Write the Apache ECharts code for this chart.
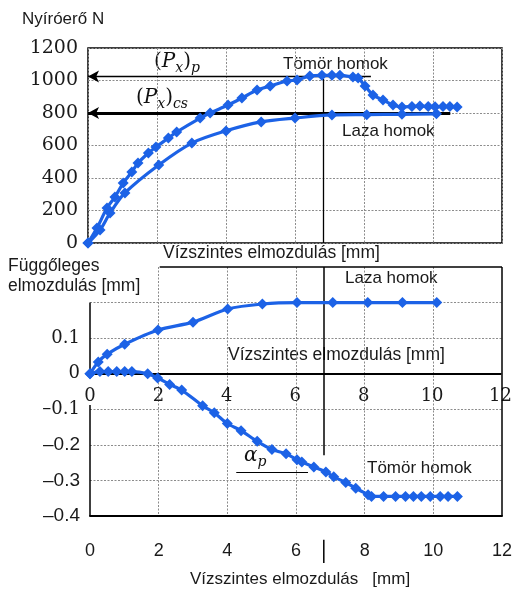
<!DOCTYPE html>
<html>
<head>
<meta charset="utf-8">
<script src="https://cdn.jsdelivr.net/npm/echarts@6/dist/echarts.min.js"></script>
<style>
html, body { margin: 0; padding: 0; background: #fff; }
#chart { width: 515px; height: 592px; }
</style>
</head>
<body>
<div id="chart"></div>
<script>
// Horizontal displacement [mm] ticks shared by both panels
const dispTicks = [0, 2, 4, 6, 8, 10, 12];
// Shear force [N] ticks, upper panel
const forceTickLabels = ['0', '200', '400', '600', '800', '1000', '1200'];
// Vertical displacement [mm] tick labels, lower panel (-0.4 ... 0.3)
const vertTickLabels = ['–0.4', '–0.3', '–0.2', '–0.1', '0', '0.1', '', ''];

// Shear force vs horizontal displacement – dense sand
const denseForceX = [0, 0.26, 0.55, 0.78, 1.02, 1.27, 1.45, 1.75, 1.97, 2.33, 2.57, 3.25, 3.54, 4.06, 4.46, 4.9, 5.28, 5.77, 6.06, 6.43, 6.78, 7.07, 7.3, 7.68, 7.83, 8.03, 8.26, 8.55, 8.84, 9.1, 9.39, 9.62, 9.86, 10.06, 10.29, 10.49, 10.7];
const denseForceY = [0, 92, 215, 283, 369, 437, 492, 554, 591, 646, 683, 769, 800, 849, 892, 941, 966, 997, 1003, 1028, 1032, 1032, 1032, 1022, 1015, 966, 911, 880, 849, 837, 840, 843, 840, 838, 840, 840, 837];

// Shear force vs horizontal displacement – loose sand
const looseForceX = [0, 0.35, 0.64, 1.07, 2.05, 3.01, 4.0, 5.02, 6.0, 7.07, 8.08, 9.1, 10.1];
const looseForceY = [0, 80, 185, 308, 480, 615, 690, 745, 769, 788, 790, 792, 795];

// Vertical vs horizontal displacement – loose sand
const looseVertX = [0, 0.24, 0.5, 1.01, 1.98, 3.0, 4.01, 5.02, 6.03, 7.07, 8.09, 9.1, 10.1];
const looseVertY = [0, 0.033, 0.055, 0.083, 0.123, 0.145, 0.182, 0.196, 0.2, 0.2, 0.2, 0.2, 0.2];

// Vertical vs horizontal displacement – dense sand
const denseVertX = [0, 0.29, 0.53, 0.78, 1.01, 1.22, 1.68, 1.97, 2.32, 2.67, 3.28, 3.62, 4.0, 4.4, 4.87, 5.3, 5.71, 6.03, 6.17, 6.52, 6.87, 7.1, 7.45, 7.74, 8.1, 8.2, 8.55, 8.9, 9.19, 9.42, 9.65, 9.91, 10.2, 10.43, 10.7];
const denseVertY = [0, 0.006, 0.006, 0.006, 0.006, 0.006, 0, -0.012, -0.03, -0.046, -0.09, -0.11, -0.14, -0.16, -0.19, -0.213, -0.225, -0.242, -0.248, -0.262, -0.276, -0.29, -0.306, -0.322, -0.34, -0.345, -0.345, -0.345, -0.345, -0.345, -0.345, -0.345, -0.345, -0.345, -0.345];

// Reference levels
const peakForce = 1025;      // (Px)p
const residualForce = 800;   // (Px)cs
const peakDisp = 6.81;

const BLUE = '#1c62e6';
const GRID = '#8c8c8c';
const INK = '#1a1a1a';
const SANS = '"Liberation Sans", Arial, sans-serif';
const SERIF = '"DejaVu Serif", serif';

function pairs(xs, ys) { return xs.map((x, i) => [x, ys[i]]); }

function curve(name, xs, ys, xi, yi, extra) {
  return Object.assign({
    type: 'line', name: name, xAxisIndex: xi, yAxisIndex: yi,
    data: pairs(xs, ys), smooth: 0.3, clip: false,
    symbol: 'diamond', symbolSize: 11, showSymbol: true,
    lineStyle: { color: BLUE, width: 3.2 },
    itemStyle: { color: BLUE },
    animation: false, z: 5
  }, extra || {});
}

function seg(a, b, w, sym) {
  return [
    { coord: a, symbol: sym || 'none', symbolSize: [9, 11], lineStyle: { color: '#000', width: w, type: 'solid' } },
    { coord: b, symbol: 'none' }
  ];
}

const markBase = { silent: true, symbol: ['none', 'none'], label: { show: false }, animation: false, lineStyle: { color: '#000', type: 'solid' } };
const dotted = (color) => ({ show: true, lineStyle: { color: color || GRID, type: [2, 1.5], width: 1 } });
const dispLabel = (v, i) => String(dispTicks[i] !== undefined ? dispTicks[i] : v);

const chart = echarts.init(document.getElementById('chart'), null, { renderer: 'canvas' });

const texts = [
  { type: 'text', x: 22, y: 19, style: { text: 'Nyíróerő N', font: '17px ' + SANS, fill: INK, verticalAlign: 'middle' } },
  { type: 'text', x: 154, y: 52, style: {
    text: '{r|(}{i|P}{sub|x}{r|)}{sub|p}',
    rich: {
      r: { fontFamily: SERIF, fontSize: 20, verticalAlign: 'top', lineHeight: 28, fill: '#111' },
      i: { fontFamily: SERIF, fontStyle: 'italic', fontSize: 20, verticalAlign: 'top', lineHeight: 28, fill: '#111' },
      sub: { fontFamily: SERIF, fontStyle: 'italic', fontSize: 14, verticalAlign: 'top', lineHeight: 28, padding: [9, 0, 0, 0], fill: '#111' }
    } } },
  { type: 'text', x: 136, y: 88, style: {
    text: '{r|(}{i|P}{sub|x}{r|)}{sub|cs}',
    rich: {
      r: { fontFamily: SERIF, fontSize: 20, verticalAlign: 'top', lineHeight: 28, fill: '#111' },
      i: { fontFamily: SERIF, fontStyle: 'italic', fontSize: 20, verticalAlign: 'top', lineHeight: 28, fill: '#111' },
      sub: { fontFamily: SERIF, fontStyle: 'italic', fontSize: 14, verticalAlign: 'top', lineHeight: 28, padding: [9, 0, 0, 0], fill: '#111' }
    } } },
  { type: 'text', x: 283, y: 64, style: { text: 'Tömör homok', font: '17px ' + SANS, fill: INK, verticalAlign: 'middle' } },
  { type: 'text', x: 342, y: 131, style: { text: 'Laza homok', font: '17px ' + SANS, fill: INK, verticalAlign: 'middle' } },
  { type: 'text', x: 163, y: 253, style: { text: 'Vízszintes elmozdulás [mm]', font: '17.5px ' + SANS, fill: INK, verticalAlign: 'middle' } },
  { type: 'text', x: 8, y: 266, style: { text: 'Függőleges', font: '17.5px ' + SANS, fill: INK, verticalAlign: 'middle' } },
  { type: 'text', x: 8, y: 286, style: { text: 'elmozdulás [mm]', font: '17.5px ' + SANS, fill: INK, verticalAlign: 'middle' } },
  { type: 'text', x: 345, y: 278, style: { text: 'Laza homok', font: '17px ' + SANS, fill: INK, verticalAlign: 'middle' } },
  { type: 'text', x: 228, y: 355, style: { text: 'Vízszintes elmozdulás [mm]', font: '17.5px ' + SANS, fill: INK, verticalAlign: 'middle' } },
  { type: 'text', x: 367, y: 468, style: { text: 'Tömör homok', font: '17px ' + SANS, fill: INK, verticalAlign: 'middle' } },
  { type: 'text', x: 244, y: 446, style: {
    text: '{i|α}{sub|p}',
    rich: {
      i: { fontFamily: SERIF, fontStyle: 'italic', fontSize: 20, verticalAlign: 'top', lineHeight: 26, fill: '#111' },
      sub: { fontFamily: SERIF, fontStyle: 'italic', fontSize: 14, verticalAlign: 'top', lineHeight: 26, padding: [9, 0, 0, 0], fill: '#111' }
    } } },
  { type: 'text', x: 190, y: 579, style: { text: 'Vízszintes elmozdulás   [mm]', font: '17px ' + SANS, fill: INK, verticalAlign: 'middle' } }
];

chart.setOption({
  backgroundColor: '#fff',
  animation: false,
  grid: [
    // shear force panel
    { left: 88, top: 48, width: 414, height: 195, show: true, borderColor: '#000', borderWidth: 1.5, backgroundColor: 'transparent' },
    // vertical displacement panel
    { left: 90, top: 267, width: 414, height: 249, show: false },
    // upper part of the vertical displacement panel (carries the zero-line axis)
    { left: 90, top: 267, width: 414, height: 249 * 3 / 7, show: false }
  ],
  xAxis: [
    { gridIndex: 0, type: 'value', min: 0, max: 12, interval: 2,
      axisLine: { show: false }, axisTick: { show: false }, axisLabel: { show: false },
      splitLine: dotted() },
    { gridIndex: 1, type: 'value', min: 0, max: 12, interval: 2, position: 'bottom',
      axisLine: { show: false, onZero: false }, axisTick: { show: false }, axisLabel: { show: false },
      splitLine: { show: true, lineStyle: { color: ['transparent', GRID, GRID, GRID, GRID, GRID, 'transparent'], type: [2, 1.5], width: 1 } } },
    { gridIndex: 1, type: 'value', min: 0, max: 12, interval: 2, position: 'bottom',
      axisLine: { show: true, onZero: false, lineStyle: { color: '#000', width: 2 } },
      axisTick: { show: false },
      axisLabel: { show: true, margin: 26, fontFamily: SANS, fontSize: 18, color: INK, formatter: dispLabel },
      splitLine: { show: false } },
    { gridIndex: 2, type: 'value', min: 0, max: 12, interval: 2, position: 'bottom',
      axisLine: { show: true, onZero: false, lineStyle: { color: '#000', width: 2 } },
      axisTick: { show: false },
      axisLabel: { show: true, margin: 14, fontFamily: SERIF, fontSize: 18, color: INK, formatter: dispLabel },
      splitLine: { show: false } }
  ],
  yAxis: [
    { gridIndex: 0, type: 'value', min: 0, max: 1200, interval: 200,
      axisLine: { show: false }, axisTick: { show: false },
      axisLabel: { margin: 10, fontFamily: SERIF, fontSize: 19, color: INK,
        formatter: (v, i) => forceTickLabels[i] },
      splitLine: dotted() },
    { gridIndex: 1, type: 'value', min: -0.4, max: 0.3, interval: 0.1,
      axisLine: { show: false, onZero: false }, axisTick: { show: false },
      axisLabel: { margin: 10, color: INK,
        formatter: (v, i) => {
          const t = vertTickLabels[i] || '';
          if (!t) return '';
          return i >= 3 ? '{s|' + t + '}' : '{n|' + t + '}';
        },
        rich: {
          s: { fontFamily: SERIF, fontSize: 18, color: INK },
          n: { fontFamily: SANS, fontSize: 19, color: INK }
        } },
      splitLine: { show: true, lineStyle: { color: [GRID, GRID, GRID, GRID, GRID, GRID, GRID, 'transparent'], type: [2, 1.5], width: 1 } } },
    { gridIndex: 2, type: 'value', min: 0, max: 0.3, interval: 0.1,
      axisLine: { show: false, onZero: false }, axisTick: { show: false }, axisLabel: { show: false },
      splitLine: { show: false } }
  ],
  series: [
    curve('Laza homok', looseForceX, looseForceY, 0, 0),
    curve('Tömör homok', denseForceX, denseForceY, 0, 0, {
      markLine: Object.assign({}, markBase, {
        data: [
          seg([0, peakForce], [8.2, peakForce], 1.3, 'arrow'),
          seg([0, residualForce], [10.5, residualForce], 2.8, 'arrow'),
          seg([peakDisp, 1010], [peakDisp, 0], 1.3)
        ]
      })
    }),
    curve('Laza homok', looseVertX, looseVertY, 1, 1, {
      markLine: Object.assign({}, markBase, {
        data: [
          seg([2.03, 0.3], [12, 0.3], 1.5),
          seg([12, 0.3], [12, -0.4], 1.5),
          seg([0, 0.2], [0, 0], 1.5),
          seg([0, -0.088], [0, -0.4], 1.5),
          seg([peakDisp, 0.3], [peakDisp, -0.229], 1.5),
          seg([4.26, -0.276], [6.35, -0.276], 1.2)
        ]
      })
    }),
    curve('Tömör homok', denseVertX, denseVertY, 1, 1)
  ],
  graphic: texts
});

// Short peak marker among the bottom tick labels, placed through the panel's scales
const pTop = chart.convertToPixel({ xAxisIndex: 2, yAxisIndex: 1 }, [peakDisp, -0.467]);
const pBot = chart.convertToPixel({ xAxisIndex: 2, yAxisIndex: 1 }, [peakDisp, -0.532]);
chart.setOption({
  graphic: texts.concat([{
    type: 'line', shape: { x1: pTop[0], y1: pTop[1], x2: pBot[0], y2: pBot[1] },
    style: { stroke: '#000', lineWidth: 1.5 }
  }])
});
</script>
</body>
</html>
